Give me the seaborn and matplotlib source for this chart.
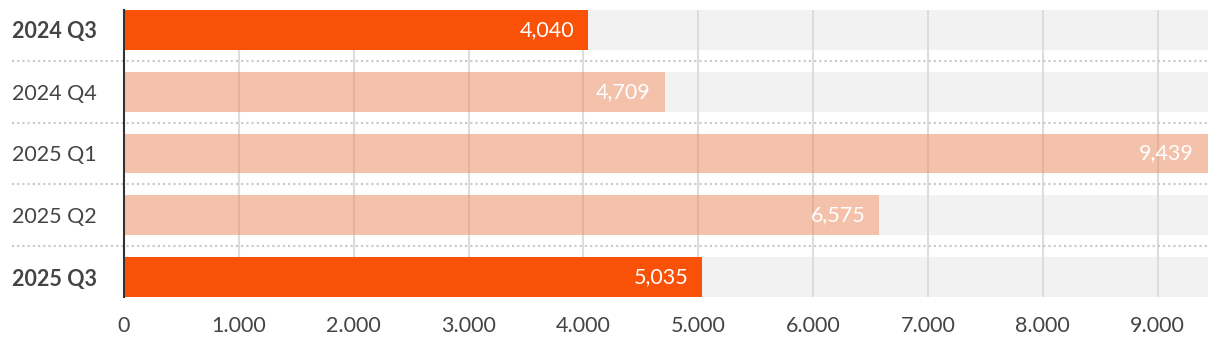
import matplotlib
matplotlib.use("Agg")
import matplotlib.pyplot as plt
from matplotlib.ticker import FuncFormatter, MultipleLocator
import matplotlib.transforms as mtransforms
import seaborn as sns
import pandas as pd

# Quarterly figures
quarters = ["2024 Q3", "2024 Q4", "2025 Q1", "2025 Q2", "2025 Q3"]
values = [4040, 4709, 9439, 6575, 5035]
highlight = [True, False, False, False, True]

ACCENT = "#F95208"
TRACK = "#F2F2F2"
GRID = "#DDDDDD"
TEXT = "#444444"

sns.set_theme(style="white")
plt.rcParams["font.family"] = ["Lato", "DejaVu Sans"]

df = pd.DataFrame({"quarter": quarters, "value": values})
df["track"] = df["value"].max()

fig = plt.figure(figsize=(12.2, 3.44), dpi=100)
ax = fig.add_axes([124 / 1220, 47 / 344, 1084 / 1220, 287 / 344])

# background tracks spanning the full scale
sns.barplot(data=df, x="track", y="quarter", color=TRACK, width=0.645,
            saturation=1, ax=ax, zorder=0)
n_track = len(ax.patches)

# value bars
sns.barplot(data=df, x="value", y="quarter", color=ACCENT, width=0.645,
            saturation=1, ax=ax, zorder=3)
value_bars = ax.patches[n_track:]
for bar, hi in zip(value_bars, highlight):
    bar.set_facecolor(ACCENT)
    bar.set_alpha(1.0 if hi else 0.3)
    bar.set_edgecolor("none")
for bar in ax.patches[:n_track]:
    bar.set_edgecolor("none")

ax.set_xlim(0, df["value"].max())
ax.set_ylim(len(quarters) - 1 + 0.3225, -0.3225)

# vertical grid between tracks and bars
ax.xaxis.set_major_locator(MultipleLocator(1000))
for t in ax.get_xticks():
    if 0 < t <= df["value"].max():
        ax.axvline(t, color=GRID, lw=1.5, zorder=1)

# dotted row separators reaching into the label column
for i in range(len(quarters) - 1):
    ax.axhline(i + 0.5, xmin=-112 / 1084, xmax=1, color="#C8C8C8",
               lw=1.5, ls=(0, (1, 1.5)), clip_on=False, zorder=1)

# value labels inside bar ends
for bar, v in zip(value_bars, values):
    y = bar.get_y() + bar.get_height() / 2
    ax.annotate(f"{v:,}", (v, y), xytext=(-10, 0), textcoords="offset points",
                ha="right", va="center", color="white", fontsize=15.5,
                zorder=5)

ax.xaxis.set_major_formatter(FuncFormatter(lambda v, p: f"{v:,.0f}".replace(",", ".")))
ax.set_xlabel("")
ax.set_ylabel("")
ax.tick_params(axis="x", length=0, pad=14, labelsize=15.5, labelcolor=TEXT)
ax.tick_params(axis="y", length=0, pad=80.6, labelsize=15.5, labelcolor=TEXT)
for lab, hi in zip(ax.get_yticklabels(), highlight):
    lab.set_horizontalalignment("left")
    if hi:
        lab.set_fontweight("bold")

for s in ["top", "right", "bottom"]:
    ax.spines[s].set_visible(False)
ax.spines["left"].set_color("#333333")
ax.spines["left"].set_linewidth(1.5)
ax.spines["left"].set_zorder(6)

fig.savefig("out.png", dpi=100)
